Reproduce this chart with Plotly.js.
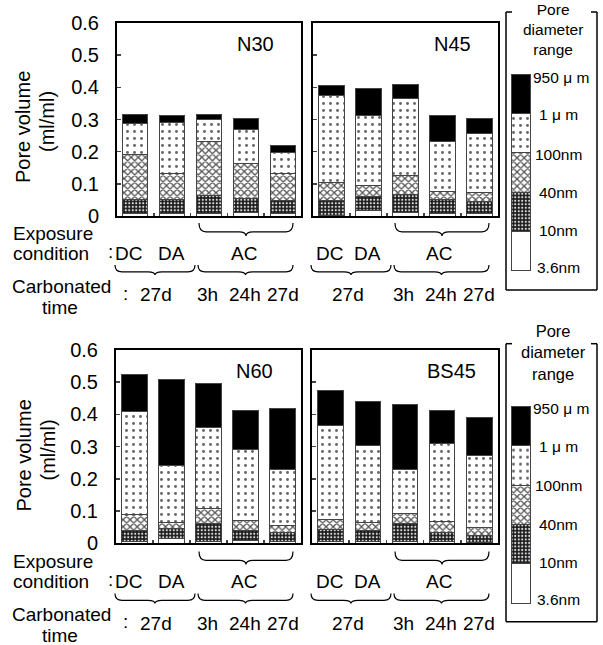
<!DOCTYPE html>
<html>
<head>
<meta charset="utf-8">
<script src="https://cdn.plot.ly/plotly-3.0.1.min.js"></script>
<style>html,body{margin:0;padding:0;background:#fff;}#chart{width:603px;height:645px;}</style>
</head>
<body>
<div id="chart"></div>
<script>
// ---------------- DATA (pore volume, ml/ml) ----------------
const categories = ['DC 27d', 'DA 27d', 'AC 3h', 'AC 24h', 'AC 27d'];
const rangeNames = ['3.6-10nm', '10-40nm', '40-100nm', '100nm-1μm', '1-950μm'];
const yTickVals = [0, 0.1, 0.2, 0.3, 0.4, 0.5, 0.6];
const yTickText = ['0', '0.1', '0.2', '0.3', '0.4', '0.5', '0.6'];
const panelNames = ['N30', 'N45', 'N60', 'BS45'];
const exposureLabels = ['DC', 'DA', 'AC'];
const timeLabels = ['27d', '3h', '24h', '27d'];
const legendLabels = ['950 μ m', '1 μ m', '100nm', '40nm', '10nm', '3.6nm'];
const legendTitle = 'Pore<br>diameter<br>range';
const legendSpan = [1];

const N30_3p6_10nm   = [0.008, 0.008, 0.008, 0.010, 0.008];
const N30_10_40nm    = [0.042, 0.042, 0.057, 0.045, 0.040];
const N30_40_100nm   = [0.140, 0.083, 0.166, 0.107, 0.083];
const N30_100nm_1um  = [0.098, 0.158, 0.069, 0.108, 0.066];
const N30_1_950um    = [0.027, 0.021, 0.017, 0.034, 0.021];

const N45_3p6_10nm   = [0.003, 0.017, 0.011, 0.008, 0.008];
const N45_10_40nm    = [0.044, 0.043, 0.057, 0.042, 0.037];
const N45_40_100nm   = [0.058, 0.034, 0.059, 0.026, 0.029];
const N45_100nm_1um  = [0.271, 0.220, 0.239, 0.155, 0.181];
const N45_1_950um    = [0.031, 0.081, 0.044, 0.081, 0.048];

const N60_3p6_10nm   = [0.005, 0.014, 0.005, 0.010, 0.005];
const N60_10_40nm    = [0.036, 0.031, 0.057, 0.031, 0.029];
const N60_40_100nm   = [0.049, 0.019, 0.047, 0.031, 0.021];
const N60_100nm_1um  = [0.319, 0.177, 0.251, 0.218, 0.175];
const N60_1_950um    = [0.114, 0.266, 0.135, 0.122, 0.189];

const BS45_3p6_10nm  = [0.005, 0.005, 0.005, 0.005, 0.003];
const BS45_10_40nm   = [0.038, 0.034, 0.057, 0.029, 0.021];
const BS45_40_100nm  = [0.032, 0.025, 0.031, 0.035, 0.026];
const BS45_100nm_1um = [0.290, 0.241, 0.137, 0.240, 0.224];
const BS45_1_950um   = [0.108, 0.135, 0.202, 0.102, 0.116];

const panelData = [
  [N30_3p6_10nm, N30_10_40nm, N30_40_100nm, N30_100nm_1um, N30_1_950um],
  [N45_3p6_10nm, N45_10_40nm, N45_40_100nm, N45_100nm_1um, N45_1_950um],
  [N60_3p6_10nm, N60_10_40nm, N60_40_100nm, N60_100nm_1um, N60_1_950um],
  [BS45_3p6_10nm, BS45_10_40nm, BS45_40_100nm, BS45_100nm_1um, BS45_1_950um]
];

// ---------------- STYLE ----------------
const W = 603, H = 645;
const FONT = 'Liberation Sans, Arial, sans-serif';
const PX = x => x / W;
const PY = y => 1 - y / H;

const segStyles = [
  {color: '#ffffff'},
  {color: '#1a1a1a', pattern: {shape: '.', bgcolor: '#1a1a1a', fgcolor: '#dddddd', size: 3.5, solidity: 0.3}},
  {color: '#ffffff', pattern: {shape: 'x', bgcolor: '#ffffff', fgcolor: '#555555', size: 5, solidity: 0.45}},
  {color: '#ffffff', pattern: {shape: '.', bgcolor: '#ffffff', fgcolor: '#666666', size: 7, solidity: 0.14}},
  {color: '#000000'}
];

function markerFor(i) {
  const s = segStyles[i];
  const m = {color: s.color, line: {color: '#444', width: 1}};
  if (s.pattern) m.pattern = Object.assign({fillmode: 'replace'}, s.pattern);
  return m;
}

// panel geometry in pixels
const panels = [
  {x0: 117, x1: 301, y0: 23, y1: 216},
  {x0: 313, x1: 498, y0: 23, y1: 216},
  {x0: 116, x1: 301, y0: 350, y1: 543.3},
  {x0: 312, x1: 498, y0: 350, y1: 543.3}
];
// legend swatch areas (with a little padding so outlines are not clipped)
const legends = [
  {x0: 510, x1: 532, y0: 73, y1: 272},
  {x0: 510, x1: 532, y0: 404.7, y1: 605}
];

const traces = [];
const layout = {
  width: W, height: H,
  margin: {l: 0, r: 0, t: 0, b: 0},
  paper_bgcolor: '#fff', plot_bgcolor: 'rgba(0,0,0,0)',
  barmode: 'stack', bargap: 0.32,
  showlegend: false,
  font: {family: FONT, color: '#000'},
  annotations: [], shapes: []
};

panels.forEach((p, k) => {
  const n = k + 1;
  const xa = n === 1 ? 'x' : 'x' + n;
  const ya = n === 1 ? 'y' : 'y' + n;
  panelData[k].forEach((vals, i) => {
    traces.push({
      type: 'bar', x: categories, y: vals, xaxis: xa, yaxis: ya,
      name: rangeNames[i], marker: markerFor(i), width: 0.68,
      hoverinfo: 'y+name'
    });
  });
  const showLabels = (k === 0 || k === 2);
  layout['xaxis' + (n === 1 ? '' : n)] = {
    domain: [PX(p.x0), PX(p.x1)], anchor: ya, type: 'category',
    range: [-0.5, 4.5], showline: true, mirror: true, linewidth: 2, linecolor: '#000',
    ticks: 'inside', tickmode: 'array', tickvals: [0.5, 1.5, 2.5, 3.5], ticklen: 3, tickwidth: 1.5,
    showticklabels: false, showgrid: false, zeroline: false, fixedrange: true
  };
  layout['yaxis' + (n === 1 ? '' : n)] = {
    domain: [PY(p.y1), PY(p.y0)], anchor: xa,
    range: [0, 0.6], showline: true, mirror: true, linewidth: 2, linecolor: '#000',
    ticks: 'inside', tickmode: 'array', tickvals: yTickVals, ticktext: yTickText,
    ticklen: 4, tickwidth: 1.5, showticklabels: showLabels,
    tickfont: {size: 20, family: FONT, color: '#000'}, ticklabelstandoff: 12,
    showgrid: false, zeroline: false, fixedrange: true, automargin: false
  };
  layout.annotations.push({
    text: panelNames[k], xref: 'paper', yref: 'paper',
    x: PX(p.x0 + (k % 2 === 0 ? 138 : 139)), y: PY(p.y0 + 21),
    showarrow: false, xanchor: 'center', yanchor: 'middle',
    font: {size: 20, family: FONT, color: '#000'}
  });
});

legends.forEach((g, j) => {
  const n = 5 + j;
  rangeNames.forEach((nm, i) => {
    traces.push({
      type: 'bar', x: ['L'], y: legendSpan, xaxis: 'x' + n, yaxis: 'y' + n,
      name: nm, marker: markerFor(i), width: 1, hoverinfo: 'name'
    });
  });
  layout['xaxis' + n] = {domain: [PX(g.x0), PX(g.x1)], anchor: 'y' + n, type: 'category',
    range: [-0.61, 0.61], visible: false, fixedrange: true};
  layout['yaxis' + n] = {domain: [PY(g.y1), PY(g.y0)], anchor: 'x' + n,
    range: [-0.05, rangeNames.length + 0.05], visible: false, fixedrange: true};
});

// ---------------- TEXT & DECORATIONS ----------------
function T(text, x, y, size, extra) {
  layout.annotations.push(Object.assign({
    text: text, xref: 'paper', yref: 'paper', x: PX(x), y: PY(y),
    showarrow: false, xanchor: 'center', yanchor: 'middle',
    font: {size: size, family: FONT, color: '#000'}
  }, extra || {}));
}
function L(x0, y0, x1, y1, w) {
  layout.shapes.push({type: 'line', xref: 'paper', yref: 'paper',
    x0: PX(x0), y0: PY(y0), x1: PX(x1), y1: PY(y1), line: {color: '#000', width: w || 1.5}});
}
function brace(x1, x2, yEnd, yTip) {
  const xm = (x1 + x2) / 2, ym = yEnd + 0.68 * (yTip - yEnd), r = 7;
  const P = (x, y) => PX(x).toFixed(5) + ',' + PY(y).toFixed(5);
  const path = 'M' + P(x1, yEnd) + ' Q' + P(x1, ym) + ' ' + P(x1 + r, ym) +
    ' L' + P(xm - r, ym) + ' Q' + P(xm, ym) + ' ' + P(xm, yTip) +
    ' Q' + P(xm, ym) + ' ' + P(xm + r, ym) + ' L' + P(x2 - r, ym) +
    ' Q' + P(x2, ym) + ' ' + P(x2, yEnd);
  layout.shapes.push({type: 'path', xref: 'paper', yref: 'paper', path: path,
    line: {color: '#000', width: 1.2}});
}

const rowDy = [0, 328.5];
rowDy.forEach((dy, r) => {
  T('Pore volume', 23, 127 + dy, 20, {textangle: -90});
  T('(ml/ml)', 47, 122 + dy, 20, {textangle: -90});
  T('Exposure', 53, 233 + dy, 19);
  T('condition', 51, 253 + dy, 19);
  T('Carbonated', 61, 286 + dy, 19);
  T('time', 60, 307 + dy, 19);
  T(':', 110, 251 + dy, 19);
  T(':', 125, 293 + dy, 19);
  [0, 196].forEach((dx, c) => {
    T(exposureLabels[0], c === 0 ? 128.5 : 329, 253 + dy, 19);
    T(exposureLabels[1], c === 0 ? 171 : 367.5, 253 + dy, 19);
    T(exposureLabels[2], c === 0 ? 244 : 438.5, 253 + dy, 19);
    T(timeLabels[0], 156 + dx - (c === 0 ? 0 : 4), 295 + dy, 19);
    T(timeLabels[1], 207 + dx, 295 + dy, 19);
    T(timeLabels[2], 245 + dx, 295 + dy, 19);
    T(timeLabels[3], 283 + dx, 295 + dy, 19);
    brace(199 + dx, 293 + dx, 223 + dy, 236 + dy);
    brace(115 + dx, 195 + dx, 265 + dy, 275 + dy);
    brace(198 + dx, 293 + dx, 265 + dy, 275 + dy);
  });
});

// legends
const legDy = [0, 331.7];
legDy.forEach((dy, j) => {
  const top = 12 + dy, bot = 290 + dy;
  L(506, top, 506, bot); L(597, top, 597, bot); L(506, bot, 597, bot);
  L(506, top, 512, top); L(591, top, 597, top);
  if (j === 0) {
    T(legendTitle, 553, 0, 15.5, {yanchor: 'top', borderpad: 0});
  } else {
    T(legendTitle, 553, 21 + dy, 16.5);
  }
  const ly = [77, 115, 154, 193, 231, 268];
  legendLabels.forEach((t, i) => {
    T(t, i === 0 ? 531 : 558, ly[i] + dy, 15.5, {xanchor: i === 0 ? 'left' : 'center'});
  });
});

Plotly.newPlot('chart', traces, layout, {staticPlot: true, displayModeBar: false});
</script>
</body>
</html>
